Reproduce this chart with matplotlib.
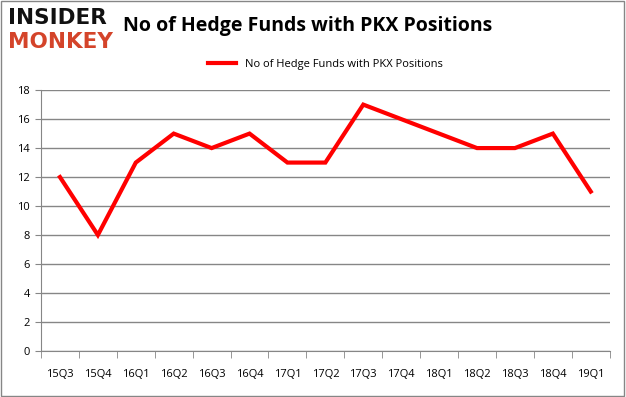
import matplotlib.pyplot as plt
from matplotlib.ticker import MultipleLocator, FixedLocator, NullFormatter

quarters = ["15Q3", "15Q4", "16Q1", "16Q2", "16Q3", "16Q4", "17Q1", "17Q2",
            "17Q3", "17Q4", "18Q1", "18Q2", "18Q3", "18Q4", "19Q1"]
funds = [12, 8, 13, 15, 14, 15, 13, 13, 17, 16, 15, 14, 14, 15, 11]

plt.rcParams['font.family'] = ['Open Sans', 'DejaVu Sans']

fig = plt.figure(figsize=(6.26, 3.97), dpi=100)
ax = fig.add_axes([0.0655, 0.116, 0.9085, 0.657])

x = list(range(len(quarters)))
ax.plot(x, funds, color='#ff0000', linewidth=3, label='No of Hedge Funds with PKX Positions',
        solid_joinstyle='miter')

ax.set_xlim(-0.5, len(quarters) - 0.5)
ax.set_ylim(0, 18)
ax.yaxis.set_major_locator(MultipleLocator(2))
ax.grid(axis='y', color='#868686', linewidth=1)
ax.set_axisbelow(True)

ax.set_xticks(x)
ax.set_xticklabels(quarters, fontsize=8)
ax.xaxis.set_minor_locator(FixedLocator([i - 0.5 for i in range(len(quarters) + 1)]))
ax.xaxis.set_minor_formatter(NullFormatter())
ax.tick_params(axis='x', which='major', length=0, pad=13)
ax.tick_params(axis='x', which='minor', length=5, color='#868686')
ax.tick_params(axis='y', length=4, color='#868686', labelsize=8, pad=4)

for s in ['top', 'right']:
    ax.spines[s].set_visible(False)
ax.spines['left'].set_color('#868686')
ax.spines['bottom'].set_color('#868686')

ax.legend(loc='lower center', bbox_to_anchor=(0.5, 1.04), frameon=False, fontsize=8,
          handlelength=2.5)

fig.text(0.197, 0.935, "No of Hedge Funds with PKX Positions", fontsize=14, fontweight='bold',
         va='center', ha='left')
fig.text(0.013, 0.955, "INSIDER", fontsize=15.5, fontweight='heavy', color='#111111',
         va='center', ha='left', family='DejaVu Sans')
fig.text(0.013, 0.895, "MONKEY", fontsize=15.5, fontweight='heavy', color='#d4442a',
         va='center', ha='left', family='DejaVu Sans')

fig.patches.append(plt.Rectangle((0.002, 0.003), 0.995, 0.994, transform=fig.transFigure,
                                 fill=False, edgecolor='#868686', linewidth=1))

fig.savefig('out.png', dpi=100)
